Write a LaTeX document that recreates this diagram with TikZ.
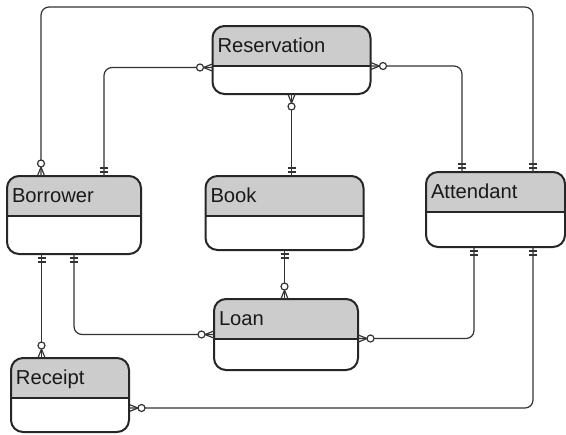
\documentclass[tikz,border=0pt]{standalone}
\usepackage{fontspec}
\setmainfont{Liberation Sans}
\usetikzlibrary{decorations.markings}

\tikzset{
  entity/.style={draw=black!85, line width=1pt, rounded corners=6pt, inner sep=0pt, outer sep=0pt,
    path picture={
      \fill[black!20, sharp corners] (path picture bounding box.north west) rectangle ([yshift=-19.75pt]path picture bounding box.north east);
      \draw[black!85, line width=1pt, sharp corners] ([yshift=-19.75pt]path picture bounding box.north west) -- ([yshift=-19.75pt]path picture bounding box.north east);
      \node[anchor=base west, inner sep=0pt, minimum size=0pt, text=black!90, font=\fontsize{10.1}{12}\selectfont] at ([xshift=2.5pt, yshift=-13pt]path picture bounding box.north west) {#1};
    }},
  rel/.style={draw=black!80, line width=0.6pt, rounded corners=4pt, postaction={decorate},
    decoration={markings,
      mark=at position 2pt with {\draw (0,-2pt) -- (0,2pt);},
      mark=at position 4pt with {\draw (0,-2pt) -- (0,2pt);},
      mark=at position 1 with {\draw (-4.5pt,0) -- (0,1.8pt) (-4.5pt,0) -- (0,-1.8pt);
        \draw[fill=white] (-6.25pt,0) circle (1.75pt);}}}
}

\begin{document}
\begin{tikzpicture}[x=0.5pt, y=-0.5pt]
        \useasboundingbox (0, 0) rectangle (566, 434);
        \node[entity=Reservation, minimum width=79pt, minimum height=34pt] at (291.5, 60) (res) {};
        \node[entity=Borrower, minimum width=67pt, minimum height=39pt] at (74, 215) (bor) {};
        \node[entity=Book, minimum width=79pt, minimum height=37pt] at (284.5, 213) (book) {};
        \node[entity=Attendant, minimum width=69.5pt, minimum height=37.5pt] at (495.5, 209.5) (att) {};
        \node[entity=Loan, minimum width=72pt, minimum height=35.5pt] at (286, 334.5) (loan) {};
        \node[entity=Receipt, minimum width=59pt, minimum height=37pt] at (70, 395) (rec) {};
        % one side first, many side last
        \draw[rel] ([xshift=18.75pt]att.north) -- ++(0, -165) -| ([xshift=-16.5pt]bor.north);
        \draw[rel] ([xshift=15pt]bor.north) |- ([yshift=-3.75pt]res.west);
        \draw[rel] ([xshift=-16.75pt]att.north) |- ([yshift=-3pt]res.east);
        \draw[rel] (book.north -| res.south) -- (res.south);
        \draw[rel] (book.south) -- (loan.north -| book.south);
        \draw[rel] (bor.south) |- (loan.west);
        \draw[rel] ([xshift=-10.75pt]att.south) |- ([yshift=-2pt]loan.east);
        \draw[rel] ([xshift=-16.25pt]bor.south) -- ([xshift=-16.25pt]bor.south |- rec.north);
        \draw[rel] ([xshift=18.75pt]att.south) |- ([yshift=-6.5pt]rec.east);
\end{tikzpicture}
\end{document}
